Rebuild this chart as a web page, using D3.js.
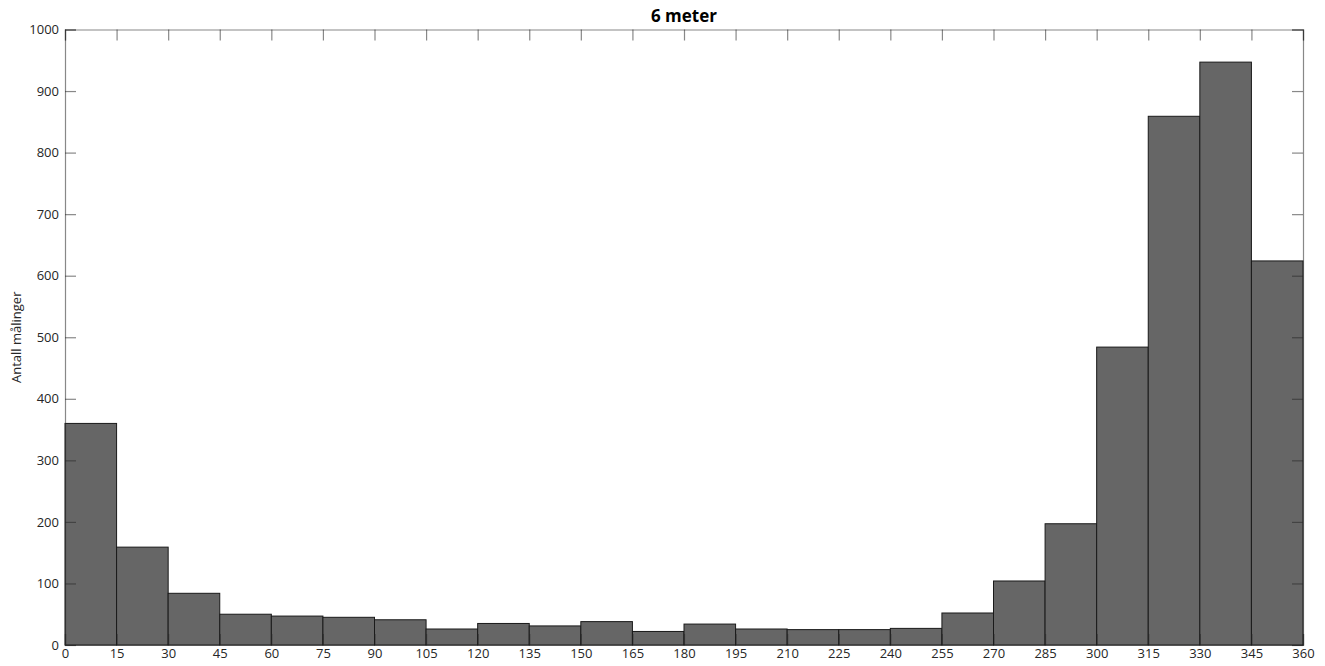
<!DOCTYPE html>
<html>
<head>
<meta charset="utf-8">
<script src="https://cdn.jsdelivr.net/npm/d3@7"></script>
<style>
  html, body { margin: 0; padding: 0; background: #fff; }
  svg { display: block; }
  text { font-family: "Open Sans", "DejaVu Sans", sans-serif; fill: #262626; }
</style>
</head>
<body>
<svg id="chart" width="1325" height="666"></svg>
<script>
// Wind direction histogram: bin edges (degrees) and measurement counts per 15° bin
const binEdges = [0, 15, 30, 45, 60, 75, 90, 105, 120, 135, 150, 165, 180,
                  195, 210, 225, 240, 255, 270, 285, 300, 315, 330, 345, 360];
const counts = [360, 159, 84, 50, 47, 45, 41, 26, 35, 31, 38, 22,
                34, 26, 25, 25, 27, 52, 104, 197, 484, 859, 947, 624];
const yTicks = [0, 100, 200, 300, 400, 500, 600, 700, 800, 900, 1000];
const xTicks = binEdges;
const titleText = "6 meter";
const yLabel = "Antall målinger";

const svg = d3.select("#chart");
const margin = { left: 65, right: 22, top: 29.5, bottom: 21 };
const W = 1325, H = 666;
const x0 = margin.left, x1 = W - margin.right;
const y0 = H - margin.bottom, y1 = margin.top;

const x = d3.scaleLinear().domain([0, 360]).range([x0, x1]);
const y = d3.scaleLinear().domain([0, 1000]).range([y0, y1]);

const bins = counts.map((c, i) => ({ lo: binEdges[i], hi: binEdges[i + 1], c }));

// Bars
svg.append("g").selectAll("rect").data(bins).join("rect")
  .attr("x", d => x(d.lo))
  .attr("y", d => y(d.c))
  .attr("width", d => x(d.hi) - x(d.lo))
  .attr("height", d => y(0) - y(d.c))
  .attr("fill", "#666666")
  .attr("stroke", "#1a1a1a")
  .attr("stroke-width", 1);

// Axes with inward ticks, box on all four sides
const tickLen = 11;
const axisColor = "#262626";
const axisOpacity = 0.55;

const gBottom = svg.append("g").attr("transform", `translate(0,${y0})`)
  .call(d3.axisBottom(x).tickValues(xTicks).tickSize(-tickLen).tickPadding(4).tickFormat(d3.format("d")));
const gTop = svg.append("g").attr("transform", `translate(0,${y1})`)
  .call(d3.axisTop(x).tickValues(xTicks).tickSize(-tickLen).tickFormat(""));
const gLeft = svg.append("g").attr("transform", `translate(${x0},0)`)
  .call(d3.axisLeft(y).tickValues(yTicks).tickSize(-tickLen).tickPadding(6).tickFormat(d3.format("d")));
const gRight = svg.append("g").attr("transform", `translate(${x1},0)`)
  .call(d3.axisRight(y).tickValues(yTicks).tickSize(-tickLen).tickFormat(""));

[gBottom, gTop, gLeft, gRight].forEach(g => {
  g.selectAll("path.domain").attr("stroke", axisColor).attr("stroke-opacity", axisOpacity)
    .attr("stroke-width", 1.2);
  g.selectAll(".tick line").attr("stroke", axisColor).attr("stroke-opacity", axisOpacity)
    .attr("stroke-width", 1.2);
  g.selectAll(".tick text").attr("fill", "#262626").style("font-size", "13px")
    .style("font-family", "'Open Sans', 'DejaVu Sans', sans-serif");
});

// Title
svg.append("text")
  .attr("x", (x0 + x1) / 2)
  .attr("y", 22)
  .attr("text-anchor", "middle")
  .style("font-size", "17px")
  .style("font-weight", "bold")
  .style("fill", "#000")
  .text(titleText);

// Y-axis label
svg.append("text")
  .attr("transform", `translate(21,${(y0 + y1) / 2}) rotate(-90)`)
  .attr("text-anchor", "middle")
  .style("font-size", "13px")
  .text(yLabel);
</script>
</body>
</html>
